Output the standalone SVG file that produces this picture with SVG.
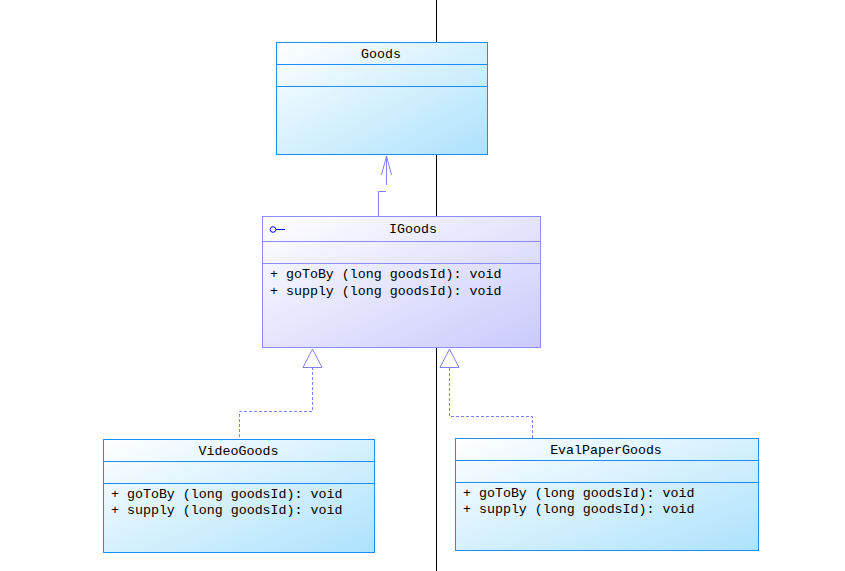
<svg xmlns="http://www.w3.org/2000/svg" width="845" height="571" viewBox="0 0 845 571">
<style>
.cls{stroke:#1a8cff;stroke-width:1;fill:url(#gBlue)}
.ifc{stroke:#8c8cff;stroke-width:1;fill:url(#gPurple)}
.sepB{stroke:#1a8cff;stroke-width:1}
.sepP{stroke:#8c8cff;stroke-width:1}
text{font-family:"Liberation Mono","DejaVu Sans Mono",monospace;font-size:13.3px;fill:#000}
.t{text-anchor:middle}
.dash{fill:none;stroke:#8080ff;stroke-width:1;stroke-dasharray:3,2}
.head{fill:#fff;stroke:#8080ff;stroke-width:1}
.open{fill:none;stroke:#8080ff;stroke-width:1}
</style>
<defs>
<linearGradient id="gBlue" x1="0" y1="0" x2="1" y2="1">
<stop offset="0" stop-color="#ffffff"/>
<stop offset="1" stop-color="#ace2fc"/>
</linearGradient>
<linearGradient id="gPurple" x1="0" y1="0" x2="1" y2="1">
<stop offset="0" stop-color="#ffffff"/>
<stop offset="1" stop-color="#cacafc"/>
</linearGradient>
</defs>
<rect width="845" height="571" fill="#fff"/>
<line x1="436.5" y1="0" x2="436.5" y2="571" stroke="#000" stroke-width="1"/>
<g id="connectors">
<path class="open" d="M378.5 216 V191.5 H386 M386.5 185 V157"/>
<path class="open" d="M381.5 175 L386.5 156 L391.5 175"/>
<path class="dash" d="M312.5 367 V411.5 H239.5 V439"/>
<polygon class="head" points="312.5,349 303,367.5 322,367.5"/>
<path class="dash" d="M449.5 368 V416.5 H532.5 V438"/>
<polygon class="head" points="449.5,349 440,367.5 459,367.5"/>
</g>
<g id="Goods">
<rect class="cls" x="276.5" y="42.5" width="211" height="112"/>
<line class="sepB" x1="276.5" y1="64.5" x2="487.5" y2="64.5"/>
<line class="sepB" x1="276.5" y1="86.5" x2="487.5" y2="86.5"/>
<text class="t" x="381" y="58">Goods</text>
</g>
<g id="IGoods">
<rect class="ifc" x="262.5" y="216.5" width="278" height="131"/>
<line class="sepP" x1="262.5" y1="241.5" x2="540.5" y2="241.5"/>
<line class="sepP" x1="262.5" y1="263.5" x2="540.5" y2="263.5"/>
<circle cx="273" cy="229.5" r="2.8" fill="none" stroke="#0000ff" stroke-width="1"/>
<line x1="276" y1="229.5" x2="285" y2="229.5" stroke="#0000ff" stroke-width="1"/>
<text class="t" x="413" y="233">IGoods</text>
<text x="270" y="278">+ goToBy (long goodsId): void</text>
<text x="270" y="295">+ supply (long goodsId): void</text>
</g>
<g id="VideoGoods">
<rect class="cls" x="103.5" y="439.5" width="271" height="113"/>
<line class="sepB" x1="103.5" y1="461.5" x2="374.5" y2="461.5"/>
<line class="sepB" x1="103.5" y1="483.5" x2="374.5" y2="483.5"/>
<text class="t" x="238.5" y="455">VideoGoods</text>
<text x="111" y="498">+ goToBy (long goodsId): void</text>
<text x="111" y="514">+ supply (long goodsId): void</text>
</g>
<g id="EvalPaperGoods">
<rect class="cls" x="455.5" y="438.5" width="303" height="112"/>
<line class="sepB" x1="455.5" y1="460.5" x2="758.5" y2="460.5"/>
<line class="sepB" x1="455.5" y1="482.5" x2="758.5" y2="482.5"/>
<text class="t" x="606" y="454">EvalPaperGoods</text>
<text x="463" y="497">+ goToBy (long goodsId): void</text>
<text x="463" y="513">+ supply (long goodsId): void</text>
</g>
</svg>
